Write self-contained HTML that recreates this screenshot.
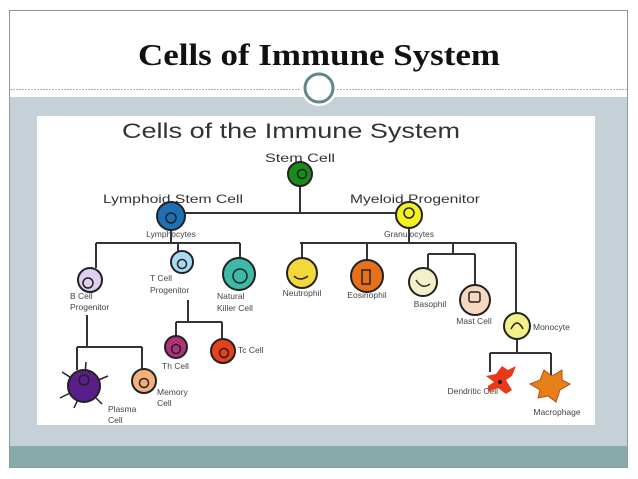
<!DOCTYPE html>
<html><head><meta charset="utf-8"><style>
html,body{margin:0;padding:0;background:#fff;width:638px;height:479px;overflow:hidden}
</style></head><body>
<svg width="638" height="479" viewBox="0 0 638 479" xmlns="http://www.w3.org/2000/svg" font-family="Liberation Sans, sans-serif">
<rect x="0" y="0" width="638" height="479" fill="#fff"/>
<rect x="9.5" y="10.5" width="618" height="457" fill="#fff" stroke="#8a9aa0"/>
<rect x="10" y="97" width="617" height="349" fill="#c6d1d7"/>
<rect x="10" y="446" width="617" height="21" fill="#88aaa9"/>
<line x1="10" y1="89.5" x2="627" y2="89.5" stroke="#a8b4b8" stroke-dasharray="2,1"/>
<text x="138" y="65" textLength="362" lengthAdjust="spacingAndGlyphs" font-family="Liberation Serif, serif" font-weight="bold" font-size="31" fill="#111">Cells of Immune System</text>
<circle cx="319" cy="88" r="18" fill="#fff"/>
<circle cx="319" cy="88" r="14" fill="#fff" stroke="#5f8886" stroke-width="3"/>
<rect x="37" y="116" width="558" height="309" fill="#fff"/>
<text x="122" y="138" textLength="338" lengthAdjust="spacingAndGlyphs" font-size="21" fill="#333">Cells of the Immune System</text>
<g stroke="#333" stroke-width="2" fill="none">
<path d="M300 186V213M171 213H409"/>
<path d="M171 229V243M96 243H240M96 243V268M178 243V251M240 243V258"/>
<path d="M188 300V322M176 322H222M176 322V336M222 322V339"/>
<path d="M87 315V347M77 347H142M77 347V370M142 347V369"/>
<path d="M409 228V243M300 243H516M302 243V258M367 243V260M453 243V254M428 254H475M428 254V268M475 254V285M516 243V313"/>
<path d="M517 339V353M490 353H551M490 353V372M551 353V376"/>
</g>
<g font-size="12" fill="#333">
<text x="265" y="162" textLength="70" lengthAdjust="spacingAndGlyphs">Stem Cell</text>
<text x="103" y="203" textLength="140" lengthAdjust="spacingAndGlyphs">Lymphoid Stem Cell</text>
<text x="350" y="203" textLength="130" lengthAdjust="spacingAndGlyphs">Myeloid Progenitor</text>
</g>
<g font-size="8.5" fill="#444">
<text x="171" y="237" text-anchor="middle">Lymphocytes</text>
<text x="409" y="237" text-anchor="middle">Granulocytes</text>
<text x="70" y="299">B Cell</text><text x="70" y="310">Progenitor</text>
<text x="150" y="281">T Cell</text><text x="150" y="293">Progenitor</text>
<text x="217" y="299">Natural</text><text x="217" y="311">Killer Cell</text>
<text x="162" y="369">Th Cell</text>
<text x="238" y="353">Tc Cell</text>
<text x="108" y="412">Plasma</text><text x="108" y="423">Cell</text>
<text x="157" y="395">Memory</text><text x="157" y="406">Cell</text>
<text x="302" y="296" text-anchor="middle">Neutrophil</text>
<text x="367" y="298" text-anchor="middle">Eosinophil</text>
<text x="430" y="307" text-anchor="middle">Basophil</text>
<text x="474" y="324" text-anchor="middle">Mast Cell</text>
<text x="533" y="330">Monocyte</text>
<text x="498" y="394" text-anchor="end">Dendritic Cell</text>
<text x="557" y="415" text-anchor="middle">Macrophage</text>
</g>
<g stroke="#222" stroke-width="2">
<circle cx="300" cy="174" r="12" fill="#1a8a1a"/><circle cx="302" cy="174" r="4.5" fill="none" stroke-width="1.5"/>
<circle cx="171" cy="216" r="14" fill="#1f6fb5"/><circle cx="171" cy="218" r="5" fill="none" stroke-width="1.5"/>
<circle cx="409" cy="215" r="13" fill="#f5f020"/><circle cx="409" cy="213" r="5" fill="none" stroke-width="1.5"/>
<circle cx="90" cy="280" r="12" fill="#ddd0f0"/><circle cx="88" cy="283" r="5" fill="none" stroke-width="1.5"/>
<circle cx="182" cy="262" r="11" fill="#a9d8f0"/><circle cx="182" cy="264" r="4.5" fill="none" stroke-width="1.5"/>
<circle cx="239" cy="274" r="16" fill="#3cbaa8"/><circle cx="240" cy="276" r="7" fill="none" stroke-width="1.5"/>
<circle cx="176" cy="347" r="11" fill="#b0307a"/><circle cx="176" cy="349" r="4.5" fill="none" stroke-width="1.5"/>
<circle cx="223" cy="351" r="12" fill="#e8401a"/><circle cx="224" cy="353" r="4.5" fill="none" stroke-width="1.5"/>
<path d="M84 386l-22 -14M84 386l24 -10M84 386l-24 12M84 386l18 18M84 386l-10 22M84 386l2 -24" stroke-width="1.5"/>
<circle cx="84" cy="386" r="16" fill="#5a1e8a"/><circle cx="84" cy="380" r="5" fill="none" stroke-width="1.5"/>
<circle cx="144" cy="381" r="12" fill="#f5b07a"/><circle cx="144" cy="383" r="4.5" fill="none" stroke-width="1.5"/>
<circle cx="302" cy="273" r="15" fill="#f2d83a"/>
<circle cx="367" cy="276" r="16" fill="#e8701a"/>
<circle cx="423" cy="282" r="14" fill="#f3f0c8"/>
<circle cx="475" cy="300" r="15" fill="#f5d8c0"/><rect x="469" y="292" width="11" height="10" rx="2" fill="none" stroke-width="1.5"/>
<circle cx="517" cy="326" r="13" fill="#f3f08a"/><path d="M511 329q6 -12 12 0" fill="none" stroke-width="1.5"/>
<path d="M486 376l10 -2l6 -8l6 4l8 -4l-4 10l-6 4l6 10l-6 4l-8 -6l-10 4l0 -6l6 -4z" fill="#e83a1a" stroke="none"/>
<circle cx="500" cy="382" r="2" fill="#222" stroke="none"/>
<path d="M530 384l10 -4l4 -10l8 6l10 -6l0 10l8 4l-10 6l-4 12l-8 -6l-10 2l2 -8z" fill="#e8801a" stroke="#b05010" stroke-width="1"/>
</g>
<path d="M294 276q6 6 14 0" stroke="#222" stroke-width="1.5" fill="none"/>
<path d="M362 270h8v14h-8z" stroke="#222" stroke-width="1.5" fill="none"/>
<path d="M416 280q6 10 14 4" stroke="#333" stroke-width="1.5" fill="none"/>
</svg>
</body></html>
